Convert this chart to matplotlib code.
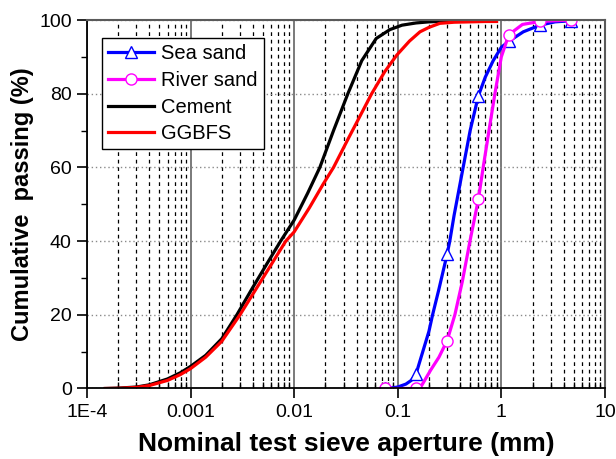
import matplotlib
matplotlib.use("Agg")
import matplotlib.pyplot as plt
from matplotlib.ticker import LogLocator, FixedLocator, MultipleLocator, NullFormatter

plt.rcParams['font.family'] = ['Liberation Sans', 'DejaVu Sans']

# standard sieve sizes where the sands were measured (mm)
sieve_mm = [0.075, 0.15, 0.3, 0.6, 1.18, 2.36, 4.75]

# sea sand curve (mm, % passing)
sea_d = [0.075, 0.09, 0.1, 0.12, 0.135, 0.15, 0.2, 0.217, 0.25, 0.3, 0.318, 0.35,
         0.428, 0.5, 0.6, 0.7, 0.836, 1.0, 1.18, 1.63, 2.36, 3.3, 4.75]
sea_p = [0, 0.2, 0.4, 1.2, 2.2, 3.9, 15.5, 20, 27, 36.5, 40, 47,
         60, 70, 79.4, 84.5, 89, 92.6, 94.2, 96.8, 98.6, 99.5, 99.8]

# river sand curve
river_d = [0.075, 0.15, 0.17, 0.208, 0.25, 0.3, 0.356, 0.42, 0.498, 0.6, 0.668,
           0.76, 0.867, 1.0, 1.18, 1.6, 2.36, 3.3, 4.75]
river_p = [0, 0, 0.8, 5, 8.5, 13, 20, 29, 40, 51.3, 60,
           70, 80, 90, 96, 98.8, 99.6, 99.8, 100]

# cement (laser sizing)
cement_d = [1.5e-4, 2e-4, 3e-4, 4e-4, 6e-4, 8e-4, 1e-3, 1.4e-3, 2e-3, 2.8e-3, 4e-3,
            5.5e-3, 7.4e-3, 1e-2, 1.35e-2, 1.77e-2, 2.4e-2, 3.3e-2, 4.5e-2, 6.2e-2,
            8.4e-2, 0.11, 0.15, 0.2, 0.3, 0.5]
cement_p = [0, 0.1, 0.4, 1.0, 2.6, 4.3, 6.0, 9.0, 13.5, 20, 27.5,
            34, 40, 45.7, 53, 60, 70, 80, 89, 95,
            97.4, 98.6, 99.2, 99.5, 99.7, 99.8]

# GGBFS
ggbfs_d = [1.5e-4, 2e-4, 3e-4, 4e-4, 6e-4, 8e-4, 1e-3, 1.4e-3, 2e-3, 3e-3, 4.2e-3,
           6e-3, 8.3e-3, 1e-2, 1.4e-2, 1.9e-2, 2.4e-2, 3.3e-2, 4.3e-2, 5.6e-2,
           7.5e-2, 0.098, 0.13, 0.164, 0.2, 0.255, 0.35, 0.5, 0.7, 0.9]
ggbfs_p = [0, 0.05, 0.3, 0.8, 2.2, 3.8, 5.4, 8.5, 12.8, 20, 26.6,
           33.6, 40, 42.5, 49, 55.4, 60, 67.6, 73.8, 80,
           86, 90.5, 94.3, 96.8, 98, 99.1, 99.4, 99.5, 99.6, 99.6]

x_ticks = [1e-4, 1e-3, 1e-2, 1e-1, 1, 10]
x_ticklabels = ['1E-4', '0.001', '0.01', '0.1', '1', '10']

fig = plt.figure(figsize=(6.16, 4.59), dpi=100)
ax = fig.add_axes([0.1412, 0.1536, 0.8408, 0.8028])

ax.plot(sea_d, sea_p, color='blue', lw=2.3, marker='^', ms=9, mfc='white',
        mec='blue', mew=1.0, markevery=[sea_d.index(s) for s in sieve_mm],
        label='Sea sand')
ax.plot(river_d, river_p, color='magenta', lw=2.3, marker='o', ms=8, mfc='white',
        mec='magenta', mew=1.0, markevery=[river_d.index(s) for s in sieve_mm],
        label='River sand')
ax.plot(cement_d, cement_p, color='black', lw=2.3, label='Cement')
ax.plot(ggbfs_d, ggbfs_p, color='red', lw=2.3, label='GGBFS')

ax.set_xscale('log')
ax.set_xlim(1e-4, 10)
ax.set_ylim(0, 100)
ax.xaxis.set_major_locator(FixedLocator(x_ticks))
ax.set_xticklabels(x_ticklabels)
ax.xaxis.set_minor_locator(LogLocator(base=10, subs=range(2, 10), numticks=50))
ax.xaxis.set_minor_formatter(NullFormatter())
ax.yaxis.set_major_locator(MultipleLocator(20))
ax.yaxis.set_minor_locator(MultipleLocator(10))

ax.set_axisbelow(True)
ax.grid(which='major', axis='x', color='#7a7a7a', lw=1.4, ls='-')
ax.grid(which='minor', axis='x', color='black', lw=0.9, ls=(0, (3, 3)))
ax.grid(which='major', axis='y', color='#8a8a8a', lw=1.0, ls=(0, (1, 2)))

ax.tick_params(axis='both', which='major', direction='out', length=7, width=1.2,
               labelsize=14, pad=4)
ax.tick_params(axis='y', which='minor', direction='out', length=4, width=1.0)
ax.tick_params(axis='x', which='minor', direction='in', length=4, width=1.0)

for side in ('left', 'bottom'):
    ax.spines[side].set_color('black')
    ax.spines[side].set_linewidth(1.3)
for side in ('top', 'right'):
    ax.spines[side].set_color('#5a5a5a')
    ax.spines[side].set_linewidth(1.5)

ax.set_xlabel('Nominal test sieve aperture (mm)', fontsize=19, fontweight='bold', labelpad=8)
ax.set_ylabel('Cumulative  passing (%)', fontsize=17, fontweight='bold', labelpad=4)

leg = ax.legend(loc='upper left', bbox_to_anchor=(0.029, 0.95), fontsize=14.5,
                frameon=True, fancybox=False, edgecolor='black', framealpha=1,
                handlelength=2.3, handletextpad=0.35, borderpad=0.3, labelspacing=0.38,
                borderaxespad=0)
leg.get_frame().set_linewidth(1.0)

fig.savefig('out.png', dpi=100)
